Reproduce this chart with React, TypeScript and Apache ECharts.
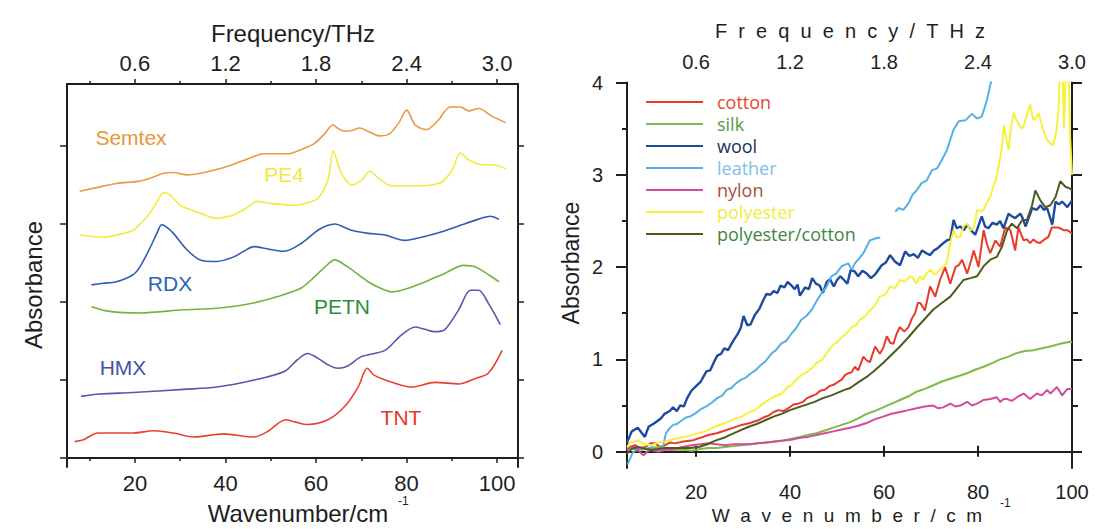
import React, { useEffect, useRef } from "react";
import * as echarts from "echarts";

// ---------- axis ticks ----------
const wnTicks = [20, 40, 60, 80, 100];
const wnMinorTicks = [10, 30, 50, 70, 90];
const offsetTicks = [0, 1, 2, 3, 4];
const absTicks = [0, 1, 2, 3, 4];
const absMinorTicks = [0.5, 1.5, 2.5, 3.5];

// ---------- left panel: explosives (offset spectra) ----------
const semtex = [[7.8,3.42],[11,3.46],[15.9,3.52],[21.1,3.55],[24,3.6],[26.3,3.65],[28.5,3.66],[31.5,3.63],[34.5,3.65],[37.4,3.69],[40.5,3.74],[43.3,3.8],[46,3.86],[48.5,3.9],[51,3.9],[53.7,3.9],[56.5,3.95],[59.6,4.03],[61.8,4.15],[63.7,4.27],[65,4.22],[66.3,4.19],[68,4.2],[69.6,4.23],[71.8,4.18],[74.1,4.13],[76.3,4.16],[78.3,4.3],[80,4.46],[81.9,4.27],[84.4,4.21],[87,4.33],[89.6,4.5],[91.9,4.5],[93.7,4.45],[95.9,4.48],[98.9,4.38],[101.9,4.3]];
const pe4 = [[7.8,2.86],[10.5,2.84],[12.9,2.83],[16,2.86],[19.6,2.92],[21.5,3.02],[23.3,3.14],[25,3.3],[26.3,3.4],[27.8,3.37],[30,3.24],[32,3.19],[34.4,3.14],[38.1,3.07],[40,3.09],[41.9,3.12],[44.5,3.2],[47,3.29],[50.7,3.26],[55.2,3.24],[58,3.27],[60.4,3.33],[62.6,3.56],[63.8,3.94],[64.8,3.78],[65.6,3.65],[67.8,3.5],[70,3.56],[71.9,3.68],[73.7,3.59],[76.7,3.49],[80,3.49],[82.6,3.49],[85.5,3.5],[87.8,3.54],[90,3.69],[91.9,3.91],[93.7,3.82],[96.7,3.76],[98.9,3.76],[101.9,3.71]];
const rdx = [[10.4,2.22],[13,2.24],[15.9,2.26],[19.6,2.35],[21.1,2.45],[23.3,2.69],[25,2.9],[25.9,2.99],[27,2.96],[28.5,2.88],[31.5,2.67],[34.4,2.54],[38.1,2.52],[41.9,2.58],[44,2.65],[46.3,2.71],[49.3,2.68],[53,2.65],[56.7,2.75],[60.4,2.92],[62.5,2.98],[64.1,3],[67.8,2.92],[71.5,2.88],[75.2,2.86],[79.6,2.79],[83.3,2.83],[87.8,2.9],[92.2,2.99],[95.2,3.05],[97.5,3.09],[98.5,3.1],[100.4,3.06]];
const petn = [[10.4,1.94],[14.4,1.88],[21.1,1.86],[30.7,1.9],[38.1,1.92],[45.6,1.98],[51.5,2.07],[56.7,2.18],[59.6,2.32],[62,2.45],[64.1,2.54],[67,2.45],[71.5,2.26],[74.5,2.17],[76.7,2.13],[78.9,2.15],[83.3,2.24],[88.5,2.37],[92.6,2.47],[95.2,2.45],[98.1,2.35],[100.4,2.26]];
const hmx = [[8.1,0.79],[12.2,0.82],[19.6,0.84],[30.7,0.88],[38.1,0.91],[45.6,0.99],[53,1.11],[55.9,1.26],[58.1,1.34],[60.4,1.28],[62.5,1.2],[64.8,1.15],[67,1.18],[70,1.3],[75.2,1.38],[78.9,1.58],[81.9,1.68],[84,1.65],[86.3,1.62],[88.5,1.65],[91.5,1.9],[94.1,2.15],[95.9,2.15],[98.1,1.98],[100.7,1.71]];
const tnt = [[6.7,0.21],[8.5,0.23],[11.8,0.32],[15,0.32],[19.6,0.32],[24.1,0.35],[28.5,0.32],[33,0.27],[39.6,0.31],[46.3,0.27],[49.3,0.34],[53.3,0.49],[55.5,0.46],[58.1,0.43],[62.6,0.49],[66.3,0.66],[69.3,0.91],[71.3,1.15],[72.9,1.06],[77.4,0.96],[81.1,0.91],[86.3,0.97],[91.5,0.95],[95.2,1.02],[98.1,1.09],[101.1,1.38]];

// ---------- right panel: textiles ----------
const cotton = [[5.3,0.02],[6,0.05],[7,0.07],[8,0.04],[9.2,0.05],[10.3,0.09],[11.3,0.09],[12.4,0.05],[13.4,0.07],[14.5,0.1],[15.5,0.09],[17.3,0.11],[19.1,0.12],[20.9,0.15],[22.6,0.18],[24.4,0.2],[26.2,0.23],[28,0.26],[29.7,0.29],[31.5,0.31],[33.2,0.34],[34.3,0.37],[35.4,0.39],[36.5,0.43],[37.5,0.45],[38.6,0.44],[39.6,0.47],[40.7,0.51],[41.7,0.52],[42.8,0.54],[43.6,0.58],[44.5,0.6],[45.5,0.62],[46.4,0.66],[47.4,0.67],[48.4,0.71],[49.5,0.73],[50.3,0.76],[51,0.78],[51.7,0.83],[52.4,0.85],[53.1,0.86],[53.8,0.92],[54.5,0.88],[55.6,1.03],[56.3,0.99],[57,0.97],[58.1,1.14],[59.1,1.06],[59.8,1.12],[60.6,1.25],[61.3,1.18],[62,1.17],[62.7,1.28],[63.4,1.35],[64.3,1.3],[65.2,1.35],[65.9,1.44],[66.6,1.5],[67.2,1.61],[67.7,1.61],[68.7,1.53],[69.8,1.79],[70.9,1.68],[71.9,1.86],[73,2],[74.1,1.82],[75.2,2],[75.9,2.02],[76.6,2.08],[77.7,1.93],[78.4,2.05],[79.1,2.18],[80.1,2],[81.2,2.4],[81.9,2.25],[82.6,2.15],[83.7,2.29],[84.7,2.22],[85.8,2.43],[86.9,2.4],[87.9,2.18],[88.6,2.43],[89.7,2.29],[90.4,2.3],[91.1,2.26],[91.8,2.3],[92.5,2.27],[93.2,2.26],[93.9,2.29],[95,2.33],[95.7,2.43],[96.8,2.43],[97.5,2.42],[98.2,2.4],[99,2.4],[99.6,2.38],[100,2.36]];
const silk = [[5.3,0.05],[6.5,0.03],[8.4,0.02],[10.2,0.04],[12,0.05],[13.8,0.03],[15.5,0.02],[17.3,0.02],[19.1,0.01],[20.9,0.03],[22.6,0.04],[24.4,0.04],[26.2,0.05],[28,0.06],[29.7,0.07],[31.5,0.08],[33.2,0.09],[35,0.1],[36.8,0.11],[38.6,0.12],[40.3,0.14],[42.1,0.16],[43.8,0.18],[45.6,0.2],[47.4,0.23],[49.2,0.26],[51,0.29],[52.8,0.32],[54.5,0.36],[56.3,0.41],[58,0.44],[59.8,0.48],[61.6,0.52],[63.4,0.56],[65.2,0.6],[66.9,0.65],[68.7,0.68],[70.5,0.72],[72.3,0.76],[74.1,0.79],[75.9,0.82],[77.7,0.85],[79.5,0.89],[81.2,0.92],[83,0.96],[84.7,1],[86.5,1.03],[88.3,1.07],[90,1.09],[91.8,1.1],[93.6,1.12],[95.4,1.14],[97.5,1.17],[99.6,1.19],[100,1.19]];
const wool = [[5.3,0.1],[6.3,0.22],[7.6,0.26],[9.1,0.16],[9.9,0.27],[11.2,0.31],[12.5,0.36],[13.3,0.41],[14.4,0.44],[15.1,0.48],[15.9,0.44],[16.6,0.5],[17.4,0.49],[18.1,0.58],[19,0.66],[20,0.71],[21,0.76],[22.2,0.87],[23,0.88],[23.8,0.97],[24.5,1.04],[25.3,1.06],[26,1.12],[26.8,1.1],[27.9,1.2],[28.8,1.27],[29.5,1.34],[30.1,1.47],[30.9,1.37],[31.6,1.38],[32.5,1.48],[33.5,1.55],[34.3,1.64],[35,1.71],[35.8,1.7],[36.5,1.74],[37.3,1.72],[38,1.8],[38.8,1.78],[39.5,1.84],[40.3,1.8],[41,1.76],[41.6,1.81],[42.1,1.69],[43.2,1.78],[44,1.76],[44.7,1.88],[45.5,1.82],[46.3,1.8],[47,1.72],[47.8,1.84],[48.5,1.87],[49.3,1.79],[50,1.86],[50.7,1.9],[51.5,1.86],[52.2,1.82],[52.9,1.97],[53.8,1.95],[54.5,1.9],[55.4,1.96],[56.3,1.93],[57.2,1.88],[58.1,1.92],[59.5,2.02],[60.4,2.05],[61.3,2.13],[62.3,2.06],[63.4,2.02],[64.5,2.17],[65.4,2.12],[66.3,2.14],[67.2,2.1],[68.1,2.18],[69,2.15],[69.8,2.13],[70.6,2.18],[71.3,2.2],[72.4,2.25],[73.4,2.29],[74.1,2.3],[74.8,2.51],[75.5,2.42],[76.2,2.44],[77,2.4],[77.7,2.46],[78.5,2.4],[79.4,2.35],[80.1,2.45],[80.8,2.55],[81.5,2.44],[82.2,2.42],[83.1,2.48],[84,2.46],[84.7,2.5],[85.4,2.42],[86.5,2.58],[87.2,2.55],[87.9,2.53],[89,2.58],[89.6,2.52],[90.1,2.44],[91,2.56],[91.5,2.64],[92.5,2.62],[93.3,2.67],[94,2.62],[94.7,2.64],[95.8,2.46],[96.5,2.71],[97.2,2.68],[97.9,2.71],[99,2.65],[100,2.72]];
const leather = [[5.4,-0.14],[6.5,-0.01],[8,0.04],[9.5,0.03],[10.6,0.05],[11.8,0.01],[12.9,0.04],[13.6,0.2],[14.3,0.25],[15.1,0.29],[15.9,0.3],[17,0.34],[17.8,0.37],[18.7,0.38],[20,0.42],[21,0.46],[22.2,0.49],[23.3,0.53],[24.5,0.58],[25.6,0.61],[26.5,0.67],[27.5,0.69],[28.5,0.74],[29.6,0.78],[30.5,0.8],[31.7,0.85],[32.6,0.88],[33.8,0.94],[34.8,0.98],[36,1.06],[37,1.1],[38.1,1.17],[39.2,1.2],[40.3,1.28],[41.3,1.34],[42.4,1.43],[43.5,1.47],[44.5,1.53],[45.5,1.62],[46.7,1.72],[47.7,1.78],[48.8,1.9],[49.8,1.93],[51,2.01],[52.4,2.04],[53.1,1.97],[53.8,2.04],[54.8,2.1],[55.6,2.15],[56.3,2.22],[57,2.29],[58.1,2.31],[59.2,2.32],[60.8,"-"],[62.4,2.6],[63.1,2.64],[64.1,2.62],[65.2,2.69],[66,2.78],[66.9,2.83],[68,2.91],[69.1,2.94],[70.2,3.05],[71.3,3.07],[72.3,3.16],[73.4,3.27],[74.1,3.38],[74.8,3.49],[75.9,3.58],[77.3,3.59],[78.7,3.66],[79.8,3.61],[80.8,3.63],[81.9,3.81],[82.6,3.97],[83.2,4.1]];
const nylon = [[5.3,0.02],[6,0.04],[7,0.05],[8,0],[8.8,-0.04],[9.6,0],[10.3,0.02],[12,0],[13.4,0.02],[14.8,0.02],[17,0.05],[19.1,0.07],[20.9,0.08],[22.6,0.09],[24.4,0.08],[26.2,0.07],[28,0.08],[29.7,0.08],[31.5,0.08],[33.2,0.09],[35,0.1],[36.8,0.11],[38.6,0.12],[40.3,0.13],[42.1,0.15],[43.8,0.16],[45.6,0.18],[47.4,0.2],[49.2,0.22],[51,0.24],[52.8,0.26],[54.5,0.28],[56.3,0.31],[58,0.35],[59.8,0.38],[61.6,0.41],[63.4,0.43],[65.2,0.45],[66.9,0.47],[68.7,0.49],[70.5,0.5],[71.5,0.47],[72.6,0.48],[74.1,0.52],[75.2,0.49],[76.2,0.5],[77.7,0.54],[78.7,0.5],[79.8,0.52],[81.2,0.56],[82.6,0.57],[84,0.59],[84.7,0.54],[85.5,0.57],[86.2,0.57],[87.2,0.55],[88.3,0.59],[89.7,0.63],[91.1,0.57],[92.5,0.63],[93.6,0.61],[94.7,0.67],[95.4,0.63],[96.8,0.7],[97.9,0.61],[99,0.68],[100,0.68]];
const polyester = [[5.3,0.05],[6,0.1],[7.7,0.12],[9,0.08],[10.6,0.07],[12,0.1],[13.4,0.11],[15.5,0.14],[17.7,0.16],[19.8,0.19],[21.9,0.22],[24,0.27],[26.2,0.31],[28,0.35],[29.7,0.38],[31,0.42],[32.5,0.45],[34,0.51],[35.4,0.56],[36.8,0.6],[38.2,0.63],[39.3,0.69],[40.3,0.72],[41.3,0.78],[42.4,0.83],[43.5,0.86],[44.5,0.9],[45.6,0.96],[46.7,0.99],[47.7,1.06],[48.8,1.14],[49.9,1.18],[51,1.24],[52,1.28],[53.1,1.35],[54,1.37],[54.9,1.43],[56,1.47],[57,1.53],[58,1.58],[59.1,1.68],[60.2,1.7],[61.3,1.79],[62.3,1.77],[63.4,1.86],[64.5,1.84],[65.5,1.9],[66.2,1.88],[66.9,1.82],[67.6,1.9],[68.3,1.86],[69,1.93],[69.8,1.97],[70.8,1.92],[71.9,1.97],[72.6,2],[73.3,2.04],[74.1,2.26],[74.8,2.4],[75.5,2.32],[76.2,2.33],[77,2.45],[77.7,2.47],[78.4,2.4],[79.1,2.42],[79.8,2.62],[80.5,2.6],[81.2,2.62],[81.9,2.7],[82.6,2.76],[83.3,2.88],[84,2.98],[84.6,3.15],[85.1,3.3],[85.5,3.54],[86,3.4],[86.5,3.27],[87,3.5],[87.6,3.67],[88.1,3.6],[88.6,3.56],[89.2,3.5],[89.7,3.52],[90.4,3.65],[91.1,3.76],[91.8,3.59],[92.3,3.62],[92.9,3.67],[93.5,3.55],[94.1,3.45],[94.7,3.38],[95.4,3.34],[96,3.32],[96.6,3.45],[97.1,3.67],[97.5,4.2],[97.9,4.3],[98.3,3.5],[98.7,4.2],[99.2,4.3],[99.6,3.4],[100,3]];
const polyCotton = [[5.3,-0.02],[6.3,0.03],[7.7,0.05],[9.2,0.03],[10.6,0.02],[12,0.03],[13.4,0.04],[15.2,0.04],[17,0.04],[18.8,0.04],[20.6,0.05],[22.4,0.08],[24.1,0.12],[25.9,0.15],[27.6,0.19],[29.4,0.23],[31.2,0.27],[32.9,0.3],[34.7,0.34],[36.5,0.38],[38.2,0.41],[40,0.45],[41.7,0.48],[43.5,0.51],[45.2,0.54],[47,0.58],[48.8,0.61],[50.2,0.64],[51.6,0.67],[52.8,0.69],[54.5,0.75],[56.3,0.81],[58,0.88],[59.8,0.96],[61.6,1.05],[63.4,1.14],[65.2,1.24],[66.9,1.34],[68.7,1.44],[70.5,1.54],[72.3,1.61],[74.1,1.68],[75.5,1.77],[76.9,1.86],[78.4,1.88],[79.8,1.9],[81.2,2.01],[82.6,2.08],[84,2.11],[85.1,2.22],[86.2,2.4],[87.2,2.47],[88.3,2.42],[89.4,2.51],[90.4,2.51],[91.5,2.67],[92.2,2.83],[93.3,2.72],[94.3,2.65],[95.4,2.67],[96.5,2.76],[97.5,2.93],[98.6,2.87],[99.6,2.85],[100,2.83]];

const leftNames = ["Semtex", "PE4", "RDX", "PETN", "HMX", "TNT"];
const rightNames = ["cotton", "silk", "wool", "leather", "nylon", "polyester", "polyester/cotton"];

const FONT = "Liberation Sans, Arial, Helvetica, sans-serif";
const AX = "#1e1e1e";
const thz = (v: number) => (v * 0.03).toFixed(1);

function App() {
  const ref = useRef<HTMLDivElement>(null);
  useEffect(() => {
    if (!ref.current) return;
    const chart = echarts.init(ref.current, undefined, { renderer: "svg" });

    const leftSeriesData = [semtex, pe4, rdx, petn, hmx, tnt];
    const leftColors = ["#E99A45", "#F3EA40", "#2E5DB6", "#72B443", "#5459AD", "#E8412F"];
    const rightSeriesData = [cotton, silk, wool, leather, nylon, polyester, polyCotton];
    const rightColors = ["#E83A2B", "#7DBB45", "#1E4AA0", "#52B2E2", "#D54B9C", "#F6F23C", "#4D5C1E"];
    const legendText = ["#E4472F", "#4F9E3E", "#17305E", "#84BDE6", "#A4523A", "#F1EE3C", "#3F8741"];

    const lineAxis = { show: true, lineStyle: { color: AX, width: 2 } };

    const series: any[] = [];
    leftSeriesData.forEach((d, i) => {
      series.push({
        name: leftNames[i], type: "line", xAxisIndex: 0, yAxisIndex: 0, data: d,
        showSymbol: false, symbol: "none", smooth: 0.3,
        lineStyle: { color: leftColors[i], width: 1.6 }, itemStyle: { color: leftColors[i] },
      });
    });
    rightSeriesData.forEach((d, i) => {
      series.push({
        name: rightNames[i], type: "line", xAxisIndex: 4, yAxisIndex: 2, data: d,
        showSymbol: false, symbol: "none", connectNulls: false,
        lineStyle: { color: rightColors[i], width: i === 2 ? 2.4 : 2 }, itemStyle: { color: rightColors[i] },
      });
    });

    const labelText = (size: number) => ({ color: AX, fontSize: size, fontFamily: FONT });

    const option: any = {
      animation: false,
      backgroundColor: "#ffffff",
      grid: [
        { left: 67, top: 84, width: 451, height: 383 },
        { left: 627, top: 82.5, width: 445, height: 385.5 },
      ],
      xAxis: [
        { gridIndex: 0, type: "value", position: "bottom", min: 5, max: 104.6, axisLine: lineAxis,
          axisTick: { customValues: wnTicks, length: 5, lineStyle: { color: AX, width: 1.5 } },
          axisLabel: { customValues: wnTicks, margin: 5, ...labelText(22) }, splitLine: { show: false } },
        { gridIndex: 0, type: "value", position: "bottom", min: 5, max: 104.6, axisLine: { show: false },
          axisTick: { customValues: wnMinorTicks, length: 3, lineStyle: { color: AX, width: 1.5 } },
          axisLabel: { show: false }, splitLine: { show: false } },
        { gridIndex: 0, type: "value", position: "top", min: 5, max: 104.6, axisLine: lineAxis,
          axisTick: { customValues: wnTicks, length: 5, lineStyle: { color: AX, width: 1.5 } },
          axisLabel: { customValues: wnTicks, margin: 10, formatter: thz, ...labelText(22) }, splitLine: { show: false } },
        { gridIndex: 0, type: "value", position: "top", min: 5, max: 104.6, axisLine: { show: false },
          axisTick: { customValues: wnMinorTicks, length: 3, lineStyle: { color: AX, width: 1.5 } },
          axisLabel: { show: false }, splitLine: { show: false } },
        { gridIndex: 1, type: "value", position: "bottom", min: 5.3, max: 100, axisLine: lineAxis,
          axisTick: { customValues: wnTicks, length: 5, lineStyle: { color: AX, width: 2 } },
          axisLabel: { customValues: wnTicks, margin: 14, ...labelText(20) }, splitLine: { show: false } },
        { gridIndex: 1, type: "value", position: "top", min: 5.3, max: 100, axisLine: lineAxis,
          axisTick: { customValues: wnTicks, length: 6, lineStyle: { color: AX, width: 2 } },
          axisLabel: { customValues: wnTicks, margin: 11, formatter: thz, ...labelText(20) }, splitLine: { show: false } },
      ],
      yAxis: [
        { gridIndex: 0, type: "value", position: "left", min: -0.115, max: 4.795, axisLine: lineAxis,
          axisTick: { customValues: offsetTicks, length: 7, lineStyle: { color: AX, width: 1.5 } },
          axisLabel: { show: false }, splitLine: { show: false } },
        { gridIndex: 0, type: "value", position: "right", min: -0.115, max: 4.795, axisLine: lineAxis,
          axisTick: { customValues: offsetTicks, length: 6, lineStyle: { color: AX, width: 1.5 } },
          axisLabel: { show: false }, splitLine: { show: false } },
        { gridIndex: 1, type: "value", position: "left", min: -0.177, max: 4, axisLine: lineAxis,
          axisTick: { customValues: absTicks, length: 11, lineStyle: { color: AX, width: 2 } },
          axisLabel: { customValues: absTicks, margin: 24, ...labelText(20) }, splitLine: { show: false } },
        { gridIndex: 1, type: "value", position: "left", min: -0.177, max: 4, axisLine: { show: false },
          axisTick: { customValues: absMinorTicks, length: 5, lineStyle: { color: AX, width: 2 } },
          axisLabel: { show: false }, splitLine: { show: false } },
        { gridIndex: 1, type: "value", position: "right", min: -0.177, max: 4, axisLine: lineAxis,
          axisTick: { customValues: absTicks, length: 10, lineStyle: { color: AX, width: 2 } },
          axisLabel: { show: false }, splitLine: { show: false } },
        { gridIndex: 1, type: "value", position: "right", min: -0.177, max: 4, axisLine: { show: false },
          axisTick: { customValues: absMinorTicks, length: 6, lineStyle: { color: AX, width: 2 } },
          axisLabel: { show: false }, splitLine: { show: false } },
      ],
      legend: {
        orient: "vertical", left: 646, top: 92, padding: 0, itemWidth: 57, itemHeight: 2, icon: "rect",
        itemGap: 2, selectedMode: false,
        textStyle: { fontSize: 18, fontFamily: "Open Sans, Lato, sans-serif", lineHeight: 20, padding: [0, 0, 0, 9] },
        data: rightNames.map((n, i) => ({ name: n, textStyle: { color: legendText[i] } })),
      },
      graphic: [
        // left panel titles
        { type: "text", x: 293, y: 33, style: { text: "Frequency/THz", fill: AX, font: `24px ${FONT}`, align: "center", verticalAlign: "middle" } },
        { type: "text", x: 298, y: 513, style: { text: "Wavenumber/cm", fill: AX, font: `24px ${FONT}`, align: "center", verticalAlign: "middle" } },
        { type: "text", x: 398, y: 501, style: { text: "-1", fill: AX, font: `12px ${FONT}`, align: "left", verticalAlign: "middle" } },
        { type: "text", x: 33, y: 285, rotation: Math.PI / 2, style: { text: "Absorbance", fill: AX, font: `24px ${FONT}`, align: "center", verticalAlign: "middle" } },
        // left panel series labels
        { type: "text", x: 131, y: 137, style: { text: "Semtex", fill: "#E8953B", font: `21px ${FONT}`, align: "center", verticalAlign: "middle" } },
        { type: "text", x: 284, y: 174, style: { text: "PE4", fill: "#F2E83C", font: `21px ${FONT}`, align: "center", verticalAlign: "middle" } },
        { type: "text", x: 170, y: 283, style: { text: "RDX", fill: "#3062B8", font: `21px ${FONT}`, align: "center", verticalAlign: "middle" } },
        { type: "text", x: 342, y: 306, style: { text: "PETN", fill: "#2E8B3A", font: `21px ${FONT}`, align: "center", verticalAlign: "middle" } },
        { type: "text", x: 123, y: 367, style: { text: "HMX", fill: "#4A50A8", font: `21px ${FONT}`, align: "center", verticalAlign: "middle" } },
        { type: "text", x: 401, y: 417, style: { text: "TNT", fill: "#E53A2A", font: `21px ${FONT}`, align: "center", verticalAlign: "middle" } },
        // right panel titles
        { type: "text", x: 850, y: 31, style: { text: "F\u00a0\u00a0r\u00a0\u00a0e\u00a0\u00a0q\u00a0\u00a0u\u00a0\u00a0e\u00a0\u00a0n\u00a0\u00a0c\u00a0\u00a0y\u00a0\u00a0/\u00a0\u00a0T\u00a0\u00a0H\u00a0\u00a0z", fill: AX, font: `20px ${FONT}`, align: "center", verticalAlign: "middle" } },
        { type: "text", x: 847, y: 515, style: { text: "W\u00a0\u00a0a\u00a0\u00a0v\u00a0\u00a0e\u00a0\u00a0n\u00a0\u00a0u\u00a0\u00a0m\u00a0\u00a0b\u00a0\u00a0e\u00a0\u00a0r\u00a0\u00a0/\u00a0\u00a0c\u00a0\u00a0m", fill: AX, font: `19px ${FONT}`, align: "center", verticalAlign: "middle" } },
        { type: "text", x: 1000, y: 503, style: { text: "-1", fill: AX, font: `12px ${FONT}`, align: "left", verticalAlign: "middle" } },
        { type: "text", x: 571, y: 263, rotation: Math.PI / 2, style: { text: "Absorbance", fill: AX, font: `23px ${FONT}`, align: "center", verticalAlign: "middle" } },
      ],
      series,
    };
    chart.setOption(option);
    return () => chart.dispose();
  }, []);

  return <div ref={ref} style={{ position: "fixed", left: 0, top: 0, width: 1097, height: 529, background: "#fff" }} />;
}

export default App;
